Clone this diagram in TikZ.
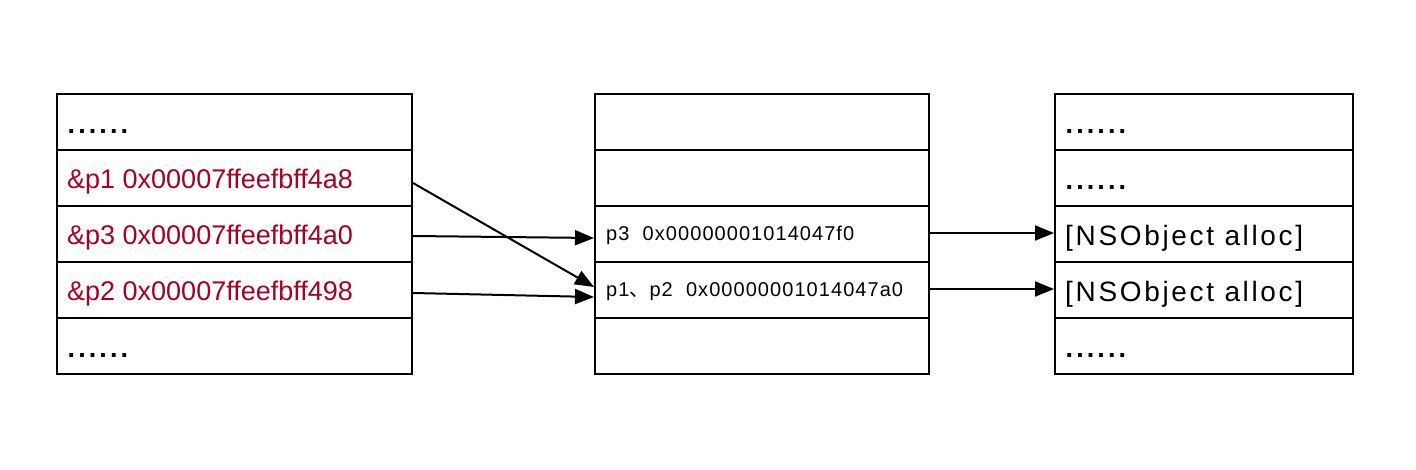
\documentclass[tikz,border=0pt]{standalone}
\usepackage{fontspec}
\setmainfont{Liberation Sans}
\newfontfamily\nsfont[LetterSpace=9.5]{Liberation Sans}
\newfontfamily\dotfont[LetterSpace=11.4]{Liberation Sans}
\newfontfamily\midfont[LetterSpace=5.3]{Liberation Sans}
\newfontfamily\cjkfont{Noto Sans CJK SC}
\usetikzlibrary{arrows.meta,calc}
\definecolor{addrred}{HTML}{A20025}
\begin{document}
\begin{tikzpicture}[x=1pt,y=-1pt,
  cell/.style={draw, line width=2pt, rectangle, inner sep=0pt, minimum height=56pt},
  lcell/.style={cell, minimum width=355pt},
  mcell/.style={cell, minimum width=334pt},
  rcell/.style={cell, minimum width=298pt},
  txt/.style={anchor=base west, inner sep=0pt},
  big/.style={txt, font=\fontsize{27}{32}\selectfont},
  addr/.style={big, text=addrred},
  nstxt/.style={txt, font=\nsfont\fontsize{28}{32}\selectfont},
  dots/.style={txt, font=\dotfont\bfseries\fontsize{27}{32}\selectfont},
  midtxt/.style={txt, font=\midfont\fontsize{20}{24}\selectfont},
  arr/.style={line width=2pt, -{Triangle[length=19pt,width=15pt]}}
]
\fill[white] (0,0) rectangle (1416,470);
\useasboundingbox (0,0) rectangle (1416,470);

% left column
\node[lcell] (L1) at (234.5,122) {};
\node[lcell] (L2) at (234.5,178) {};
\node[lcell] (L3) at (234.5,234) {};
\node[lcell] (L4) at (234.5,290) {};
\node[lcell] (L5) at (234.5,346) {};
\node[dots] (L1t) at (67.5,134) {......};
\node[addr] (L2t) at (67,189) {\&p1 0x00007ffeefbff4a8};
\node[addr] (L3t) at (67,245) {\&p3 0x00007ffeefbff4a0};
\node[addr] (L4t) at (67,301) {\&p2 0x00007ffeefbff498};
\node[dots] (L5t) at (67.5,357.5) {......};

% middle column
\node[mcell] (M1) at (762,122) {};
\node[mcell] (M2) at (762,178) {};
\node[mcell] (M3) at (762,234) {};
\node[mcell] (M4) at (762,290) {};
\node[mcell] (M5) at (762,346) {};
\node[midtxt] (M3t) at (606,240.5) {p3\ \ 0x00000001014047f0};
\node[midtxt] (M4t) at (606,296.5) {p1{\cjkfont 、}p2\ \ 0x00000001014047a0};

% right column
\node[rcell] (R1) at (1204,122) {};
\node[rcell] (R2) at (1204,178) {};
\node[rcell] (R3) at (1204,234) {};
\node[rcell] (R4) at (1204,290) {};
\node[rcell] (R5) at (1204,346) {};
\node[dots]  (R1t) at (1065.5,134) {......};
\node[dots]  (R2t) at (1065.5,189.5) {......};
\node[nstxt] (R3t) at (1065,245.5) {[NSObject alloc]};
\node[nstxt] (R4t) at (1065,301.5) {[NSObject alloc]};
\node[dots]  (R5t) at (1065.5,357.5) {......};

% connectors
\draw[arr] ($(L2.east)+(0,5)$) -- ($(M4.west)+(0,-3)$);
\draw[arr] ($(L3.east)+(0,2)$) -- ($(M3.west)+(0,4)$);
\draw[arr] ($(L4.east)+(0,3)$) -- ($(M4.west)+(0,7)$);
\draw[arr] ($(M3.east)+(0,-1)$) -- ($(R3.west)+(0,-1)$);
\draw[arr] ($(M4.east)+(0,-1)$) -- ($(R4.west)+(0,-1)$);
\end{tikzpicture}
\end{document}
